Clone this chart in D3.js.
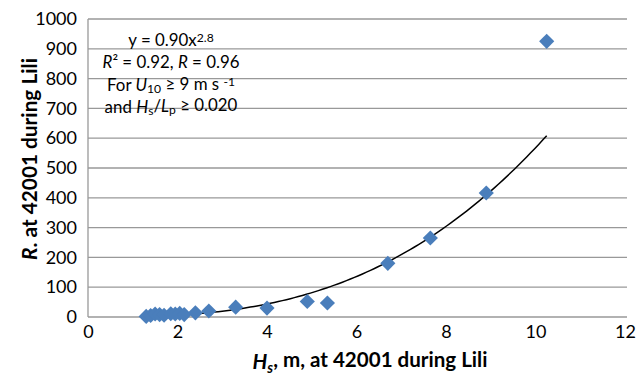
<!DOCTYPE html>
<html>
<head>
<meta charset="utf-8">
<script src="https://cdn.jsdelivr.net/npm/d3@7"></script>
<style>
  html, body { margin: 0; padding: 0; background: #fff; }
  svg { display: block; font-family: Lato, "Open Sans", sans-serif; }
</style>
</head>
<body>
<svg id="chart" width="638" height="383"></svg>
<script>
// Significant wave height (m) and runup at buoy 42001 during Hurricane Lili
const hsValues = [1.3, 1.4, 1.5, 1.6, 1.7, 1.85, 1.95, 2.05, 2.15, 2.4, 2.7, 3.3, 4.0, 4.9, 5.35, 6.7, 7.65, 8.9, 10.25];
const rValues  = [2, 5, 10, 8, 6, 11, 10, 12, 8, 14, 20, 33, 30, 52, 47, 180, 265, 416, 925];

const xTicks = [0, 2, 4, 6, 8, 10, 12];
const yTicks = [0, 100, 200, 300, 400, 500, 600, 700, 800, 900, 1000];

// Power-law fit y = a x^b
const fitA = 0.90, fitB = 2.8;

const svg = d3.select("#chart");
const plotLeft = 88, plotRight = 625, plotTop = 19, plotBottom = 317;

const x = d3.scaleLinear().domain([0, 12]).range([plotLeft, plotRight]);
const y = d3.scaleLinear().domain([0, 1000]).range([plotBottom, plotTop]);

// Scale a text element's font size so its rendered length equals `width`
function fitWidth(sel, width) {
  const len = sel.node().getComputedTextLength();
  const fs = parseFloat(sel.attr("font-size"));
  sel.attr("font-size", (fs * width / len).toFixed(2));
}

// Horizontal gridlines
svg.append("g").selectAll("line").data(yTicks.filter(d => d > 0)).join("line")
  .attr("x1", plotLeft).attr("x2", plotRight + 2)
  .attr("y1", d => y(d)).attr("y2", d => y(d))
  .attr("stroke", "#999").attr("stroke-width", 1.3);

// Axes
const yAxis = d3.axisLeft(y).tickValues(yTicks).tickFormat(d3.format("d")).tickSize(0).tickPadding(11);
const xAxis = d3.axisBottom(x).tickValues(xTicks).tickFormat(d3.format("d")).tickSize(0).tickPadding(10);

const gy = svg.append("g").attr("transform", `translate(${plotLeft},0)`).call(yAxis);
const gx = svg.append("g").attr("transform", `translate(0,${plotBottom})`).call(xAxis);
[gx, gy].forEach(g => {
  g.select(".domain").attr("stroke", "#999").attr("stroke-width", 1.3);
  g.selectAll("text").attr("font-size", 18).attr("fill", "#000").attr("font-family", "Lato, sans-serif");
});
gx.selectAll("text").attr("dy", "0.6em");
gx.select(".domain").attr("d", `M${plotLeft},0H${plotRight + 2}`);
gy.select(".domain").attr("d", `M0,${plotBottom}V${plotTop}`);

// Fitted curve over the range of the data
const fitX = d3.range(0, 101).map(i => hsValues[0] + (d3.max(hsValues) - hsValues[0]) * i / 100);
svg.append("path")
  .datum(fitX)
  .attr("fill", "none").attr("stroke", "#000").attr("stroke-width", 1.5)
  .attr("d", d3.line().x(d => x(d)).y(d => y(fitA * Math.pow(d, fitB))));

// Data points as diamonds
const diamond = d3.symbol().type(d3.symbolSquare).size(115);
svg.append("g").selectAll("path").data(hsValues.map((h, i) => [h, rValues[i]])).join("path")
  .attr("d", diamond)
  .attr("transform", d => `translate(${x(d[0])},${y(d[1])}) rotate(45)`)
  .attr("fill", "#4a7ebb");

// Annotation block
const ann = svg.append("g").attr("text-anchor", "middle").attr("fill", "#000");
const annSize = 16;
const t1 = ann.append("text").attr("x", 171).attr("y", 46).attr("font-size", annSize);
t1.append("tspan").text("y = 0.90x");
t1.append("tspan").attr("dy", "-0.35em").attr("font-size", "0.72em").text("2.8");

const t2 = ann.append("text").attr("x", 171).attr("y", 68).attr("font-size", annSize);
t2.append("tspan").attr("font-style", "italic").text("R");
t2.append("tspan").text("² = 0.92, ");
t2.append("tspan").attr("font-style", "italic").text("R");
t2.append("tspan").text(" = 0.96");
fitWidth(t2, 137);
const annFs = t2.attr("font-size");
t1.attr("font-size", annFs);

const t3 = ann.append("text").attr("x", 171).attr("y", 91).attr("font-size", annFs);
t3.append("tspan").text("For ");
t3.append("tspan").attr("font-style", "italic").text("U");
t3.append("tspan").attr("dy", "0.18em").attr("font-size", "0.72em").text("10");
t3.append("tspan").attr("dy", "-0.18em").text(" ≥ 9 m s ");
t3.append("tspan").attr("dy", "-0.35em").attr("font-size", "0.72em").text("-1");

const t4 = ann.append("text").attr("x", 171).attr("y", 113).attr("font-size", annFs);
t4.append("tspan").text("and ");
t4.append("tspan").attr("font-style", "italic").text("H");
t4.append("tspan").attr("dy", "0.18em").attr("font-size", "0.72em").text("s");
t4.append("tspan").attr("dy", "-0.18em").text("/");
t4.append("tspan").attr("font-style", "italic").text("L");
t4.append("tspan").attr("dy", "0.18em").attr("font-size", "0.72em").text("p");
t4.append("tspan").attr("dy", "-0.18em").text(" ≥ 0.020");

// Axis titles
const xt = svg.append("text").attr("x", 370).attr("y", 369)
  .attr("text-anchor", "middle").attr("font-size", 18).attr("font-weight", "bold");
xt.append("tspan").attr("font-style", "italic").text("H");
xt.append("tspan").attr("dy", "0.25em").attr("font-size", "0.7em").attr("font-style", "italic").text("s");
xt.append("tspan").attr("dy", "-0.25em").text(", m, at 42001 during Lili");
fitWidth(xt, 235);

const yt = svg.append("text")
  .attr("transform", `translate(37,159) rotate(-90)`)
  .attr("text-anchor", "middle").attr("font-size", 18).attr("font-weight", "bold");
yt.append("tspan").attr("font-style", "italic").text("R");
yt.append("tspan").text(". at 42001 during Lili");
fitWidth(yt, 202);
</script>
</body>
</html>
